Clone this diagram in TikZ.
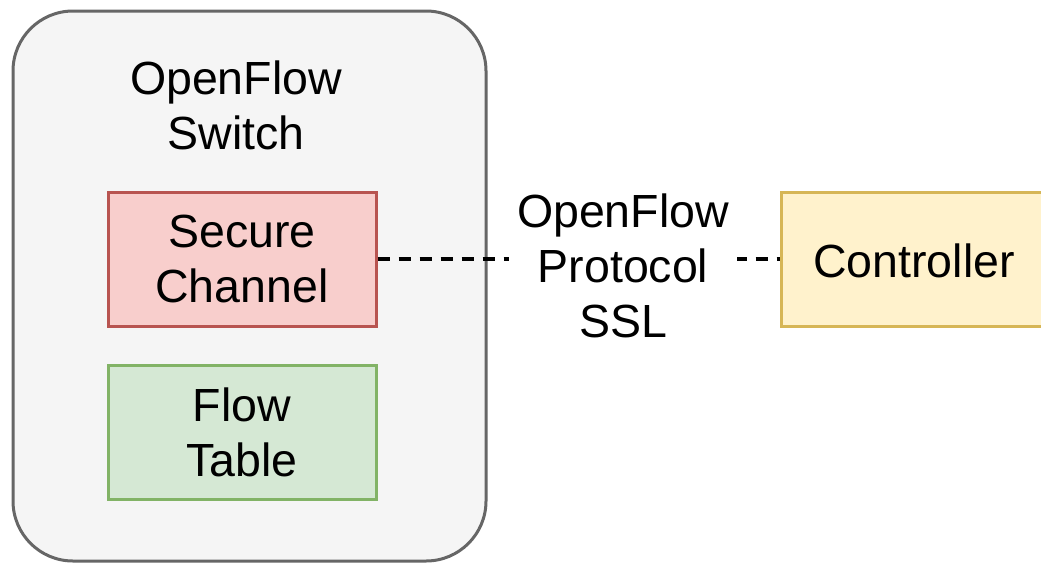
\documentclass[tikz,border=0pt]{standalone}
\usepackage{fontspec}
\setmainfont{Liberation Sans}
\definecolor{swfill}{HTML}{F5F5F5}
\definecolor{swline}{HTML}{666666}
\definecolor{redfill}{HTML}{F8CECC}
\definecolor{redline}{HTML}{B85450}
\definecolor{grnfill}{HTML}{D5E8D4}
\definecolor{grnline}{HTML}{82B366}
\definecolor{ylwfill}{HTML}{FFF2CC}
\definecolor{ylwline}{HTML}{D6B656}
\tikzset{
  lbl/.style={font=\fontsize{46.5pt}{55pt}\selectfont, align=center, inner sep=0pt},
  block/.style={draw, line width=3pt, minimum width=268pt, minimum height=134pt,
    inner sep=0pt, font=\fontsize{46.5pt}{55pt}\selectfont, align=center},
}
\begin{document}
\begin{tikzpicture}[x=1pt,y=-1pt]
\useasboundingbox (0,0) rectangle (1041,563);
% switch enclosure
\node[draw=swline, fill=swfill, line width=3pt, rounded corners=60pt,
  minimum width=473pt, minimum height=550pt] (switch) at (249.5,286) {};
\node[lbl] (title) at (236,105) {OpenFlow\\Switch};
% inner blocks
\node[block, draw=redline, fill=redfill] (secure) at (242,259) {Secure\\Channel};
\node[block, draw=grnline, fill=grnfill] (table) at (242,432) {Flow\\Table};
% controller
\node[block, draw=ylwline, fill=ylwfill, anchor=west] (ctrl) at (780,259) {};
\node[lbl] (ctrltext) at (914,261) {Controller};
% protocol link
\draw[line width=3.2pt, dash pattern=on 12pt off 9pt] (secure.east) -- (ctrl.west)
  node[pos=0.61, yshift=-7pt, fill=white, lbl, inner xsep=8pt, inner ysep=2pt] (proto) {OpenFlow\\Protocol\\SSL};
\end{tikzpicture}
\end{document}
